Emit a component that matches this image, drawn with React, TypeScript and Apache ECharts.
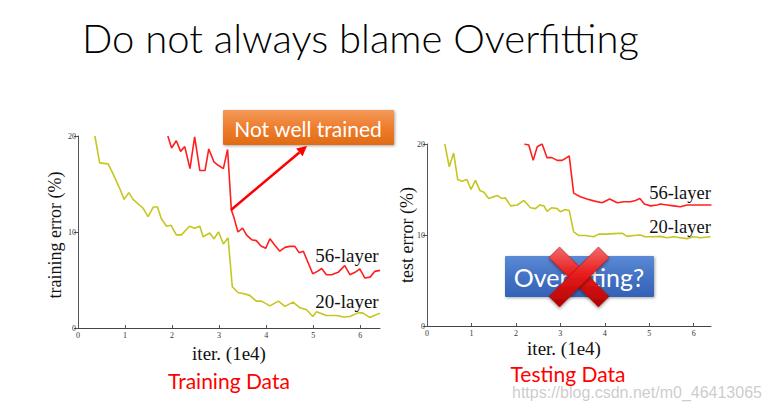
import React, { useEffect, useRef } from "react";
import * as echarts from "echarts";

// ---- data ----
const trainIter20 = [0.36,0.46,0.64,0.74,0.89,0.98,1.08,1.17,1.38,1.49,1.6,1.69,1.77,1.88,1.98,2.09,2.2,2.37,2.48,2.59,2.66,2.8,2.89,2.99,3.09,3.19,3.28,3.4,3.51,3.65,3.79,3.9,4.08,4.26,4.4,4.57,4.72,4.86,4.99,5.07,5.28,5.5,5.64,5.78,5.96,6.06,6.2,6.3,6.42];
const trainErr20 = [20,17.2,17.1,16.1,14.5,13.4,14.1,13.4,12.5,11.6,12.6,12.6,11.4,10.6,10.7,9.7,9.7,10.6,10.4,10.6,9.5,9.9,9.3,10.0,8.75,9.4,4.3,3.7,3.6,3.4,2.8,2.8,2.3,2.8,2.25,2.7,2.1,1.9,1.2,1.7,1.3,1.3,1.15,1.2,1.6,1.55,1.1,1.3,1.55];
const trainIter56 = [1.91,1.99,2.09,2.18,2.27,2.38,2.48,2.59,2.7,2.78,2.89,2.98,3.09,3.18,3.26,3.31,3.4,3.5,3.58,3.69,3.79,3.89,3.99,4.08,4.18,4.29,4.4,4.5,4.61,4.7,4.79,4.99,5.09,5.18,5.28,5.39,5.53,5.67,5.78,5.89,5.99,6.1,6.21,6.31,6.42];
const trainErr56 = [20,18.75,19.5,18.4,18.9,16.6,19.9,16.4,16.4,18.65,17.3,16.95,16.6,18.6,12.3,11.6,10.0,10.4,9.7,9.2,9.1,8.55,8.3,9.3,8.65,8.0,8.4,8.5,8.5,7.85,8.0,5.65,5.9,6.2,5.55,5.55,5.8,6.5,5.55,5.8,6.15,5.2,5.3,5.9,6.0];
const testIter20 = [0.4,0.5,0.6,0.69,0.79,0.9,0.99,1.09,1.19,1.28,1.39,1.58,1.69,1.76,1.88,2.03,2.18,2.33,2.44,2.54,2.63,2.7,2.81,2.93,3.0,3.11,3.2,3.3,3.41,3.56,3.75,3.86,4.05,4.2,4.39,4.5,4.65,4.8,4.91,5.1,5.25,5.4,5.55,5.7,5.85,6.0,6.15,6.38];
const testErr20 = [20,17.5,19.0,16.1,15.9,16.1,15.0,16.0,14.9,14.7,14.0,14.35,14.0,14.1,13.2,13.3,13.8,13.0,12.9,13.3,13.2,12.6,13.0,12.9,12.55,12.8,12.7,10.35,9.95,9.95,9.8,10.1,10.1,10.15,10.2,9.85,9.95,10.0,9.8,9.8,9.85,9.7,9.8,9.7,9.6,9.8,9.7,9.8];
const testIter56 = [2.19,2.29,2.39,2.48,2.59,2.7,2.81,2.93,3.04,3.11,3.2,3.3,3.45,3.6,3.75,3.94,4.11,4.28,4.43,4.58,4.69,4.79,4.89,5.03,5.18,5.25,5.4,5.55,5.7,5.85,6.15,6.4];
const testErr56 = [20,19.9,18.2,19.7,20,18.5,18.5,18.2,18.2,18.4,18.7,14.6,14.2,13.95,13.75,13.55,13.95,13.55,13.65,13.65,13.8,14.0,13.4,13.2,13.3,13.4,13.3,13.2,13.1,13.3,13.3,13.3];

const xTicks = [0, 1, 2, 3, 4, 5, 6];
const yTicks = [0, 10, 20];
const seriesNames = ["56-layer", "20-layer"];
const titleText = "Do not always blame Overfitting";
const trainYName = "training error (%)";
const testYName = "test error (%)";
const xName = "iter. (1e4)";
const trainCaption = "Training Data";
const testCaption = "Testing Data";
const trainNote = "Not well trained";
const testNote = "Overfitting?";
const watermark = "https://blog.csdn.net/m0_46413065";

const zip = (xs: number[], ys: number[]) => xs.map((x, i) => [x, ys[i]]);

const RED = "#ff1f1f";
const OLIVE = "#c6c620";
const SERIF = "'Liberation Serif', 'Times New Roman', serif";
const SANS = "Lato, 'Open Sans', sans-serif";

function axisPair(gridIndex: number, xMax: number) {
  const xAxis = {
    type: "value",
    gridIndex,
    min: 0,
    max: xMax,
    axisLine: { show: true, lineStyle: { color: "#444", width: 1 } },
    axisTick: { show: true, inside: true, length: 3, customValues: xTicks, lineStyle: { color: "#555" } },
    axisLabel: { customValues: xTicks, fontSize: 8, fontFamily: SERIF, color: "#333", margin: 3 },
    splitLine: { show: false },
  };
  const yAxis = {
    type: "value",
    gridIndex,
    min: 0,
    max: 20,
    interval: 10,
    axisLine: { show: true, lineStyle: { color: "#555", width: 1 } },
    axisTick: { show: true, length: 4, customValues: yTicks, lineStyle: { color: "#555" } },
    axisLabel: { customValues: yTicks, fontSize: 8, fontFamily: SERIF, color: "#333", margin: 2 },
    splitLine: { show: false },
  };
  return { xAxis, yAxis };
}

export default function App() {
  const ref = useRef<HTMLDivElement>(null);
  useEffect(() => {
    document.body.style.margin = "0";
    const chart = echarts.init(ref.current!, undefined, { renderer: "svg" });
    const a = axisPair(0, 6.42);
    const b = axisPair(1, 6.39);

    const lineSeries = (name: string, data: number[][], color: string, idx: number) => ({
      type: "line",
      name,
      xAxisIndex: idx,
      yAxisIndex: idx,
      data,
      showSymbol: false,
      symbol: "none",
      lineStyle: { color, width: 1.6 },
      itemStyle: { color },
      z: 3,
    });

    // arrow geometry (annotation)
    const tip = [307, 146];
    const tail = [231, 210];
    const dx = tip[0] - tail[0], dy = tip[1] - tail[1];
    const len = Math.hypot(dx, dy);
    const ux = dx / len, uy = dy / len;
    const hl = 10, hw = 5;
    const bx = tip[0] - hl * ux, by = tip[1] - hl * uy;
    const nx = -uy * hw, ny = ux * hw;

    // X mark geometry (annotation)
    const cx = 579, cy = 277, half = 24.75, w = 5.3;
    const bar1 = [
      [cx - half + w, cy - half - w],
      [cx + half + w, cy + half - w],
      [cx + half - w, cy + half + w],
      [cx - half - w, cy - half + w],
    ];
    const bar2 = bar1.map(([px, py]) => [2 * cx - px, py]);
    const xFill = new echarts.graphic.LinearGradient(0, 0, 0, 1, [
      { offset: 0, color: "#f26a6a" },
      { offset: 0.45, color: "#e81c1c" },
      { offset: 1, color: "#b00000" },
    ]);

    chart.setOption({
      animation: false,
      backgroundColor: "#ffffff",
      grid: [
        { left: 78, top: 136, width: 302, height: 192 },
        { left: 427, top: 144, width: 284, height: 182 },
      ],
      xAxis: [a.xAxis, b.xAxis],
      yAxis: [a.yAxis, b.yAxis],
      series: [
        lineSeries(seriesNames[1], zip(trainIter20, trainErr20), OLIVE, 0),
        lineSeries(seriesNames[0], zip(trainIter56, trainErr56), RED, 0),
        lineSeries(seriesNames[1], zip(testIter20, testErr20), OLIVE, 1),
        lineSeries(seriesNames[0], zip(testIter56, testErr56), RED, 1),
      ],
      graphic: [
        { type: "text", left: 82, top: 18, style: { text: titleText, fontSize: 40, fontWeight: 300, fontFamily: SANS, fill: "#000" } },
        // axis names
        { type: "text", x: 55, y: 235, rotation: Math.PI / 2, style: { text: trainYName, fontSize: 18, fontFamily: SERIF, fill: "#111", align: "center", verticalAlign: "middle" } },
        { type: "text", x: 407, y: 235, rotation: Math.PI / 2, style: { text: testYName, fontSize: 18, fontFamily: SERIF, fill: "#111", align: "center", verticalAlign: "middle" } },
        { type: "text", x: 229, y: 353, style: { text: xName, fontSize: 19, fontFamily: SERIF, fill: "#111", align: "center", verticalAlign: "middle" } },
        { type: "text", x: 564, y: 348, style: { text: xName, fontSize: 19, fontFamily: SERIF, fill: "#111", align: "center", verticalAlign: "middle" } },
        // series labels
        { type: "text", x: 347, y: 255, style: { text: seriesNames[0], fontSize: 19, fontFamily: SERIF, fill: "#111", align: "center", verticalAlign: "middle" } },
        { type: "text", x: 347, y: 301, style: { text: seriesNames[1], fontSize: 19, fontFamily: SERIF, fill: "#111", align: "center", verticalAlign: "middle" } },
        { type: "text", x: 680, y: 193, style: { text: seriesNames[0], fontSize: 18.5, fontFamily: SERIF, fill: "#111", align: "center", verticalAlign: "middle" } },
        { type: "text", x: 680, y: 227, style: { text: seriesNames[1], fontSize: 18.5, fontFamily: SERIF, fill: "#111", align: "center", verticalAlign: "middle" } },
        // captions
        { type: "text", x: 229, y: 380, style: { text: trainCaption, fontSize: 21, fontFamily: SANS, fill: "#ff0000", align: "center", verticalAlign: "middle" } },
        { type: "text", x: 568, y: 373, style: { text: testCaption, fontSize: 21, fontFamily: SANS, fill: "#ff0000", align: "center", verticalAlign: "middle" } },
        // arrow
        { type: "line", shape: { x1: tail[0], y1: tail[1], x2: bx, y2: by }, style: { stroke: "#ff0000", lineWidth: 2.5 }, z: 10 },
        { type: "polygon", shape: { points: [tip, [bx + nx, by + ny], [bx - nx, by - ny]] }, style: { fill: "#ff0000" }, z: 10 },
        // orange box
        {
          type: "rect", shape: { x: 223, y: 110, width: 171, height: 35, r: 1 }, z: 11,
          style: {
            fill: new echarts.graphic.LinearGradient(0, 0, 0, 1, [
              { offset: 0, color: "#f39a58" },
              { offset: 0.5, color: "#ee7d2e" },
              { offset: 1, color: "#e06b14" },
            ]),
            shadowBlur: 3, shadowColor: "rgba(0,0,0,0.35)", shadowOffsetX: 1, shadowOffsetY: 1,
          },
        },
        { type: "text", x: 308, y: 128, z: 12, style: { text: trainNote, fontSize: 21, fontFamily: SANS, fill: "#fff", align: "center", verticalAlign: "middle" } },
        // blue box
        {
          type: "rect", shape: { x: 505, y: 256, width: 149, height: 41, r: 1 }, z: 11,
          style: {
            fill: new echarts.graphic.LinearGradient(0, 0, 0, 1, [
              { offset: 0, color: "#5b8ad6" },
              { offset: 0.5, color: "#4472c4" },
              { offset: 1, color: "#3462b6" },
            ]),
            shadowBlur: 3, shadowColor: "rgba(0,0,0,0.35)", shadowOffsetX: 1, shadowOffsetY: 1,
          },
        },
        { type: "text", x: 579, y: 277, z: 12, style: { text: testNote, fontSize: 25, fontFamily: SANS, fill: "#fff", align: "center", verticalAlign: "middle" } },
        // red X
        { type: "polygon", z: 13, shape: { points: bar1 }, style: { fill: xFill, stroke: "#a00000", lineWidth: 0.5, shadowBlur: 3, shadowColor: "rgba(0,0,0,0.35)", shadowOffsetY: 2 } },
        { type: "polygon", z: 13, shape: { points: bar2 }, style: { fill: xFill, stroke: "#a00000", lineWidth: 0.5, shadowBlur: 3, shadowColor: "rgba(0,0,0,0.35)", shadowOffsetY: 2 } },
        // watermark
        { type: "text", x: 512, y: 392, z: 20, style: { text: watermark, fontSize: 16, fontFamily: "'Liberation Sans', Arial, sans-serif", fill: "rgba(195,195,195,0.85)", verticalAlign: "middle" } },
      ],
    });
    return () => chart.dispose();
  }, []);
  return <div ref={ref} style={{ position: "fixed", left: 0, top: 0, width: 767, height: 406, background: "#fff" }} />;
}
